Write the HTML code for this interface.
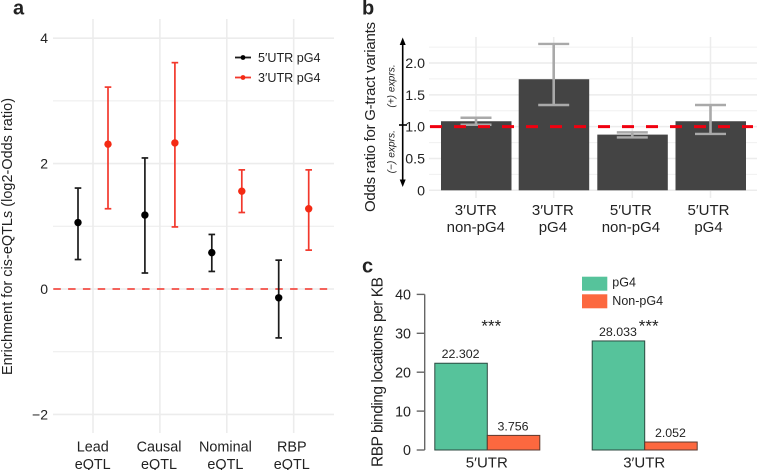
<!DOCTYPE html>
<html>
<head>
<meta charset="utf-8">
<style>
html,body{margin:0;padding:0;background:#fff;}
svg{display:block;filter:blur(0.25px);}
text{font-family:"Liberation Sans",Arial,sans-serif;fill:#222;}
</style>
</head>
<body>
<svg id="fig" xmlns="http://www.w3.org/2000/svg" width="758" height="470" viewBox="0 0 758 470"></svg>
<script>
// Panel a data
const aCategories = [["Lead","eQTL"],["Causal","eQTL"],["Nominal","eQTL"],["RBP","eQTL"]];
const aFivePoint = [1.06,1.18,0.58,-0.14];
const aFiveLow = [0.47,0.255,0.28,-0.78];
const aFiveHigh = [1.61,2.09,0.87,0.46];
const aThreePoint = [2.31,2.33,1.56,1.28];
const aThreeLow = [1.28,0.99,1.22,0.62];
const aThreeHigh = [3.22,3.61,1.90,1.90];
const aMajorTicks = [4,2,0,-2];
const aMinorTicks = [3,1,-1];
const aTickLabels = ["4","2","0","\u22122"];
const aLegend = ["5\u2032UTR pG4","3\u2032UTR pG4"];
// Panel b data
const bCategories = [["3\u2032UTR","non-pG4"],["3\u2032UTR","pG4"],["5\u2032UTR","non-pG4"],["5\u2032UTR","pG4"]];
const bValues = [1.085,1.745,0.875,1.085];
const bLow = [1.03,1.34,0.83,0.885];
const bHigh = [1.14,2.30,0.91,1.34];
const bMajorTicks = [0,0.5,1,1.5,2];
const bMinorTicks = [0.25,0.75,1.25,1.75,2.25];
const bTickLabels = ["0","0.5","1.0","1.5","2.0"];
const bReference = 1;
// Panel c data
const cGroups = ["5\u2032UTR","3\u2032UTR"];
const cPg4 = [22.302,28.033];
const cNonPg4 = [3.756,2.052];
const cPg4Labels = ["22.302","28.033"];
const cNonPg4Labels = ["3.756","2.052"];
const cTicks = [0,10,20,30,40];
const cLegend = ["pG4","Non-pG4"];

const svg = document.getElementById('fig');
const NS = 'http://www.w3.org/2000/svg';
function mk(tag, attrs, txt){
  const el = document.createElementNS(NS, tag);
  for(const k in attrs){ el.setAttribute(k, attrs[k]); }
  if(txt !== undefined){ el.textContent = txt; }
  svg.appendChild(el);
  
  return el;
}
function line(x1,y1,x2,y2,stroke,w,extra){
  return mk('line', Object.assign({x1:x1,y1:y1,x2:x2,y2:y2,stroke:stroke,'stroke-width':w}, extra||{}));
}
function label(x,y,s,size,anchor,extra){
  return mk('text', Object.assign({x:x,y:y,'font-size':size,'text-anchor':anchor||'middle'}, extra||{}), s);
}

/* ---------- Panel letters ---------- */
let el;
el = label(13,14.5,'a',20,'start',{'font-weight':'bold',fill:'#000'});

el = label(362,14.5,'b',20,'start',{'font-weight':'bold',fill:'#000'});

el = label(362,272.7,'c',20,'start',{'font-weight':'bold',fill:'#000'});


/* ---------- Panel a ---------- */
const yA = v => 289 - v * 62.7;
const xA = i => 93 + i * 66.9;
const GRID = '#ececec';
aMinorTicks.forEach(t => {
  const g = line(53,yA(t),334,yA(t),GRID,1);
  
});
aMajorTicks.forEach((t,i) => {
  const g = line(53,yA(t),334,yA(t),GRID,1.6);
  
  const lb = label(48,yA(t)+5,aTickLabels[i],14,'end');
  
});
aCategories.forEach((c,i) => {
  const g = line(xA(i),19,xA(i),433,GRID,1.6);
  
  const l1 = label(xA(i)-0.3-i*0.55,451.7,c[0],14.4);
  
  const l2 = label(xA(i)-0.3-i*0.55,469,c[1],14.4);
  
});
el = line(53.3,yA(0),334,yA(0),'#f4332a',1.6,{'stroke-dasharray':'7.5 7.3'});

function errA(cx,pt,lo,hi,col,series){
  const v = line(cx,yA(hi),cx,yA(lo),col,1.7);
  
  const t = line(cx-3.3,yA(hi),cx+3.3,yA(hi),col,1.7);
  
  const b = line(cx-3.3,yA(lo),cx+3.3,yA(lo),col,1.7);
  
  const p = mk('circle',{cx:cx,cy:yA(pt),r:3.7,fill:col==='#1c1c1c'?'#000':'#f42a14'});
  
}
aCategories.forEach((c,i) => {
  errA(xA(i)-15,aFivePoint[i],aFiveLow[i],aFiveHigh[i],'#1c1c1c','five-utr');
  errA(xA(i)+15,aThreePoint[i],aThreeLow[i],aThreeHigh[i],'#f2382c','three-utr');
});
// legend a
el = line(235,57.5,251,57.5,'#1c1c1c',1.8);

el = mk('circle',{cx:243,cy:57.5,r:2.4,fill:'#000'});

el = label(258,62,aLegend[0],12.6,'start');

el = line(235,77.5,251,77.5,'#f2382c',1.8);

el = mk('circle',{cx:243,cy:77.5,r:2.4,fill:'#f42a14'});

el = label(258,82,aLegend[1],12.6,'start');

el = label(0,0,'Enrichment for cis-eQTLs (log2-Odds ratio)',14.4,'middle',{transform:'translate(12,236.5) rotate(-90)',textLength:277});


/* ---------- Panel b ---------- */
const yB = v => 190.3 - v * 63.65;
const xB = i => [476,553.7,632.3,710.5][i];
bMinorTicks.forEach(t => {
  const g = line(429,yB(t),757,yB(t),'#f0f0f0',1);
  
});
bMajorTicks.forEach((t,i) => {
  const g = line(429,yB(t),757,yB(t),GRID,1.5);
  
  const lb = label(425,yB(t)+5,bTickLabels[i],14.2,'end');
  
});
bCategories.forEach((c,i) => {
  const g = line(xB(i),37,xB(i),198,GRID,1.5);
  
});
bValues.forEach((v,i) => {
  const r = mk('rect',{x:xB(i)-35,y:yB(v),width:70.5,height:yB(0)-yB(v),fill:'#444444'});
  
});
bCategories.forEach((c,i) => {
  const col = '#a9a9a9';
  const v = line(xB(i),yB(bHigh[i]),xB(i),yB(bLow[i]),col,2.6);
  
  const t = line(xB(i)-15.5,yB(bHigh[i]),xB(i)+15.5,yB(bHigh[i]),col,2.4);
  
  const b = line(xB(i)-15.5,yB(bLow[i]),xB(i)+15.5,yB(bLow[i]),col,2.4);
  
  const l1 = label(xB(i)-0.2-i*0.6,215,c[0],15);
  
  const l2 = label(xB(i)-0.2-i*0.6,232,c[1],15);
  
});
el = line(430,yB(bReference),753,yB(bReference),'#f0000f',3,{'stroke-dasharray':'12 12'});

el = line(402.7,42,402.7,183,'#000',1.6);

el = mk('polygon',{points:'402.7,37.5 399.7,45 405.7,45',fill:'#000'});

el = mk('polygon',{points:'402.7,187 399.7,179.5 405.7,179.5',fill:'#000'});

el = line(399,125,407,125,'#000',1.6);

el = label(0,0,'(+) exprs.',10.2,'middle',{transform:'translate(394.5,86) rotate(-90)','font-style':'italic'});

el = label(0,0,'(\u2212) exprs.',10.2,'middle',{transform:'translate(394.5,151.7) rotate(-90)','font-style':'italic'});

el = label(0,0,'Odds ratio for G-tract variants',15,'middle',{transform:'translate(375,117) rotate(-90)',textLength:190});


/* ---------- Panel c ---------- */
const yC = v => 450 - v * 3.89;
const xC = i => [487.3,644.7][i];
const BW = 52.5;
el = line(424.7,yC(0),424.7,yC(40),'#666',1.4);

cTicks.forEach(t => {
  const g = line(416.7,yC(t),424.7,yC(t),'#666',1.4);
  
  const lb = label(411,yC(t)+5.2,String(t),14.3,'end');
  
});
cGroups.forEach((g,i) => {
  const a = mk('rect',{x:xC(i)-BW,y:yC(cPg4[i]),width:BW,height:yC(0)-yC(cPg4[i]),fill:'#56c39b',stroke:'#2c4a40','stroke-width':1});
  
  const b = mk('rect',{x:xC(i),y:yC(cNonPg4[i]),width:BW,height:yC(0)-yC(cNonPg4[i]),fill:'#fc683f',stroke:'#5a3a30','stroke-width':1});
  
  const la = label(xC(i)-BW/2-0.5,yC(cPg4[i])-5,cPg4Labels[i],12.4);
  
  const lb = label(xC(i)+BW/2-0.5,yC(cNonPg4[i])-5,cNonPg4Labels[i],12.4);
  
  const gl = label(xC(i)-0.5,467.7,g,15);
  
  const st = label(xC(i)+4,331.5,'***',17);
  
});
el = mk('rect',{x:582,y:276.7,width:25.3,height:14,fill:'#56c39b'});

el = label(612.3,286.7,cLegend[0],12.5,'start');

el = mk('rect',{x:582,y:294.3,width:25.3,height:14,fill:'#fc683f'});

el = label(612.3,305,cLegend[1],12.5,'start');

el = label(0,0,'RBP binding locations per KB',15.5,'middle',{transform:'translate(382.7,372) rotate(-90)',textLength:190});

</script>
</body>
</html>
